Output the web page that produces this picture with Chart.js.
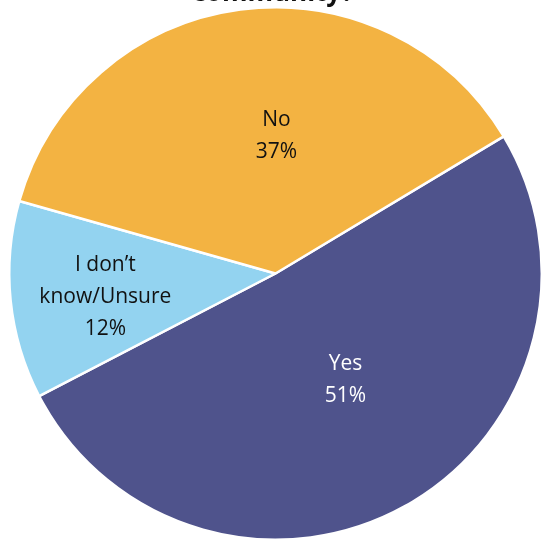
<!DOCTYPE html>
<html>
<head>
<meta charset="utf-8">
<script src="https://cdn.jsdelivr.net/npm/chart.js@4"></script>
<style>
  html, body { margin: 0; padding: 0; background: #ffffff; }
  #wrap { position: relative; width: 543px; height: 541px; }
</style>
</head>
<body>
<div id="wrap"><canvas id="c" width="543" height="541"></canvas></div>
<script>
const categories = ["Yes", ["I don\u2019t", "know/Unsure"], "No"];
const values = [51, 12, 37];
const percentLabels = ["51%", "12%", "37%"];
const colors = ["#4f538c", "#93d3f0", "#f3b342"];
const textColors = ["#ffffff", "#111111", "#111111"];
const titleText = "community?";

const labelPlugin = {
  id: 'sliceLabels',
  afterDatasetsDraw(chart, args, opts) {
    const ctx = chart.ctx;
    const meta = chart.getDatasetMeta(0);
    ctx.save();
    ctx.font = '500 21px "Open Sans", sans-serif';
    ctx.textAlign = 'center';
    ctx.textBaseline = 'middle';
    meta.data.forEach((arc, i) => {
      const p = arc.getProps(['x', 'y', 'startAngle', 'endAngle', 'outerRadius'], true);
      const pos = opts.positions[i];
      const mid = (p.startAngle + p.endAngle) / 2 + pos.da * Math.PI / 180;
      const r = p.outerRadius * pos.f;
      const cx = p.x + Math.cos(mid) * r;
      const cy = p.y + Math.sin(mid) * r;
      const cat = categories[i];
      const lines = (Array.isArray(cat) ? cat : [cat]).concat([percentLabels[i]]);
      const lh = 32;
      ctx.fillStyle = textColors[i];
      lines.forEach((ln, k) => {
        ctx.fillText(ln, cx, cy + (k - (lines.length - 1) / 2) * lh);
      });
    });
    ctx.restore();
  }
};

const titlePlugin = {
  id: 'cutTitle',
  afterDraw(chart) {
    const ctx = chart.ctx;
    ctx.save();
    ctx.font = 'bold 26px "Open Sans", sans-serif';
    ctx.textAlign = 'center';
    ctx.textBaseline = 'alphabetic';
    ctx.fillStyle = '#111111';
    ctx.fillText(titleText, 273, 1);
    ctx.restore();
  }
};

new Chart(document.getElementById('c'), {
  type: 'pie',
  data: {
    labels: categories,
    datasets: [{
      data: values,
      backgroundColor: colors,
      borderColor: '#ffffff',
      borderWidth: 2.5
    }]
  },
  options: {
    responsive: false,
    animation: false,
    rotation: 59,
    layout: { padding: { left: 8, right: 0, top: 6, bottom: 0 } },
    plugins: {
      legend: { display: false },
      tooltip: { enabled: false },
      title: { display: false },
      sliceLabels: {
        positions: [
          { f: 0.48, da: -4 },
          { f: 0.645, da: -2 },
          { f: 0.515, da: 8 }
        ]
      }
    }
  },
  plugins: [labelPlugin, titlePlugin]
});
</script>
</body>
</html>
